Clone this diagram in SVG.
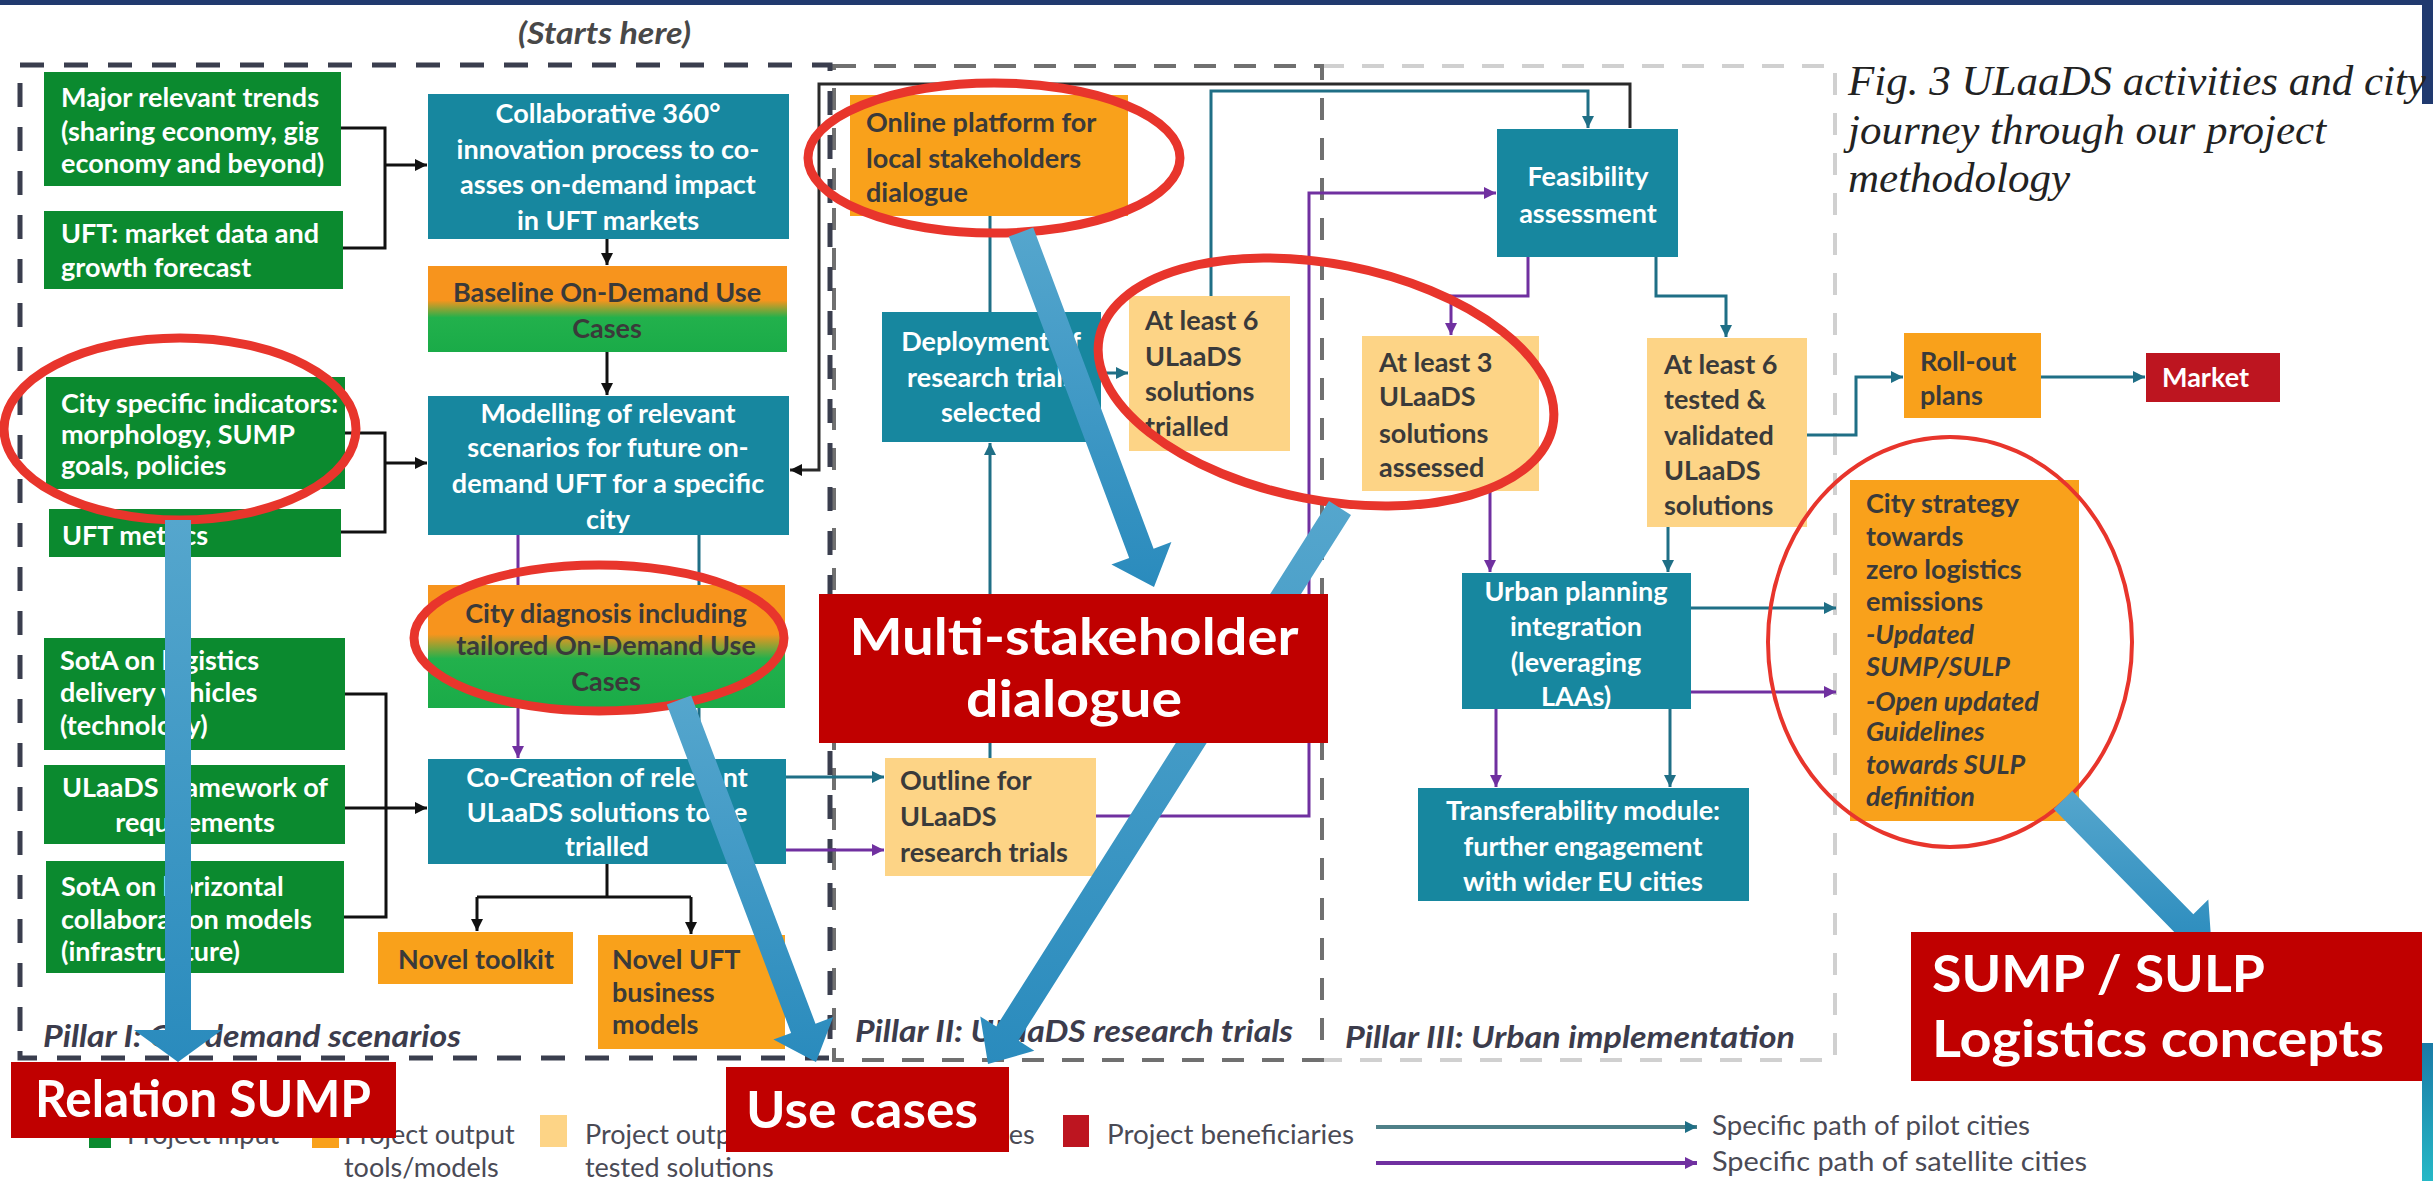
<svg xmlns="http://www.w3.org/2000/svg" width="2433" height="1181" viewBox="0 0 2433 1181">
<defs>
<style>
.bg{fill:#0b8a2f}.bt{fill:#17879f}.bo{fill:#f9a11b}.by{fill:#fdd486}.br{fill:#c00000}.bm{fill:#bd1520}
text{font-family:Lato,"Liberation Sans",sans-serif;font-weight:bold;font-size:27px}
.w{fill:#ffffff}.d{fill:#3a3a3a}.m{text-anchor:middle}.i{font-style:italic}
.ck{stroke:#111111;stroke-width:3;fill:none}
.cf{stroke:#2a2a2a;stroke-width:3;fill:none}
.ct{stroke:#1f6f86;stroke-width:3;fill:none}
.cp{stroke:#7030a0;stroke-width:3;fill:none}
.lbl{font-size:52px;fill:#ffffff}
.pil{font-size:30px;font-style:italic;fill:#3c3c4c}
.leg{font-weight:normal;font-size:27px;fill:#4a4a55}
.ell{fill:none;stroke:#e8352c;stroke-width:9}
.fa{fill:url(#gblue)}
.cap{font-family:"Liberation Serif",serif;font-weight:normal;font-style:italic;font-size:43px;fill:#222222}
</style>
<linearGradient id="gog" x1="0" y1="0" x2="0" y2="1">
<stop offset="0" stop-color="#f7941d"/><stop offset="0.4" stop-color="#f7941d"/><stop offset="0.6" stop-color="#22b14c"/><stop offset="1" stop-color="#1aab48"/>
</linearGradient>
<linearGradient id="gblue" x1="0" y1="0" x2="0" y2="1">
<stop offset="0" stop-color="#55a6cd"/><stop offset="1" stop-color="#2a8bbd"/>
</linearGradient>
<linearGradient id="gteal" x1="0" y1="0" x2="0" y2="1">
<stop offset="0" stop-color="#1a7aa6"/><stop offset="1" stop-color="#26b8c6"/>
</linearGradient>
<marker id="ak" viewBox="0 0 10 10" refX="10" refY="5" markerWidth="12" markerHeight="12" markerUnits="userSpaceOnUse" orient="auto"><path d="M0,0 L10,5 L0,10 z" fill="#111111"/></marker>
<marker id="at" viewBox="0 0 10 10" refX="10" refY="5" markerWidth="12" markerHeight="12" markerUnits="userSpaceOnUse" orient="auto"><path d="M0,0 L10,5 L0,10 z" fill="#1f6f86"/></marker>
<marker id="ap" viewBox="0 0 10 10" refX="10" refY="5" markerWidth="12" markerHeight="12" markerUnits="userSpaceOnUse" orient="auto"><path d="M0,0 L10,5 L0,10 z" fill="#7030a0"/></marker>
</defs>
<rect x="0" y="0" width="2433" height="1181" fill="#ffffff"/>
<rect x="0" y="0" width="2433" height="5" fill="#213a6f"/>
<rect x="2422" y="0" width="11" height="104" fill="#213a6f"/>
<rect x="2422" y="1043" width="11" height="138" fill="url(#gteal)"/>

<g id="pillars">
<rect x="1322" y="66" width="513" height="994" fill="none" stroke="#d0d0d0" stroke-width="4" stroke-dasharray="22 18"/>
<rect x="834" y="66" width="488" height="994" fill="none" stroke="#707070" stroke-width="4" stroke-dasharray="22 18"/>
<rect x="20" y="65" width="810" height="993" fill="none" stroke="#3a3e4e" stroke-width="5" stroke-dasharray="24 20"/>
<text class="pil" x="43" y="1047" textLength="418" lengthAdjust="spacingAndGlyphs">Pillar I: On-demand scenarios</text>
<text class="pil" x="855" y="1042" textLength="438" lengthAdjust="spacingAndGlyphs">Pillar II: ULaaDS research trials</text>
<text class="pil" x="1345" y="1048" textLength="450" lengthAdjust="spacingAndGlyphs">Pillar III: Urban implementation</text>
<text class="pil" x="518" y="44" textLength="173" lengthAdjust="spacingAndGlyphs" style="fill:#484848">(Starts here)</text>
</g>

<g id="caption">
<text class="cap" x="1848" y="95">Fig. 3 ULaaDS activities and city</text>
<text class="cap" x="1848" y="144">journey through our project</text>
<text class="cap" x="1848" y="192">methodology</text>
</g>

<g id="connectors">
<path class="ck" d="M341,128 H385 V248 H343"/>
<path class="ck" d="M385,165 H427" marker-end="url(#ak)"/>
<path class="ck" d="M345,433 H385 V532 H341"/>
<path class="ck" d="M385,463 H427" marker-end="url(#ak)"/>
<path class="ck" d="M345,694 H386 V917 H344"/>
<path class="ck" d="M345,808 H427" marker-end="url(#ak)"/>
<path class="ck" d="M607,239 V265" marker-end="url(#ak)"/>
<path class="ck" d="M607,352 V395" marker-end="url(#ak)"/>
<path class="ck" d="M607,864 V897 M477,897 H691"/>
<path class="ck" d="M477,897 V931" marker-end="url(#ak)"/>
<path class="ck" d="M691,897 V934" marker-end="url(#ak)"/>
<path class="cf" d="M1630,128 V84 H819 V470 H790" marker-end="url(#ak)"/>
<path class="ct" d="M1211,296 V91 H1588 V128" marker-end="url(#at)"/>
<path class="ct" d="M990,216 V312"/>
<path class="ct" d="M990,758 V443" marker-end="url(#at)"/>
<path class="ct" d="M1101,373 H1128" marker-end="url(#at)"/>
<path class="ct" d="M786,777 H884" marker-end="url(#at)"/>
<path class="ct" d="M699,535 V585 M699,708 V758" marker-end="url(#at)"/>
<path class="ct" d="M1656,257 V296 H1726 V337" marker-end="url(#at)"/>
<path class="ct" d="M1807,435 H1856 V377 H1903" marker-end="url(#at)"/>
<path class="ct" d="M2041,377 H2145" marker-end="url(#at)"/>
<path class="ct" d="M1668,527 V572" marker-end="url(#at)"/>
<path class="ct" d="M1691,608 H1836" marker-end="url(#at)"/>
<path class="ct" d="M1670,709 V787" marker-end="url(#at)"/>
<path class="cp" d="M518,535 V585 M518,708 V758" marker-end="url(#ap)"/>
<path class="cp" d="M786,850 H884" marker-end="url(#ap)"/>
<path class="cp" d="M1096,816 H1309 V193 H1496" marker-end="url(#ap)"/>
<path class="cp" d="M1528,257 V296 H1451 V335" marker-end="url(#ap)"/>
<path class="cp" d="M1490,491 V572" marker-end="url(#ap)"/>
<path class="cp" d="M1691,692 H1836" marker-end="url(#ap)"/>
<path class="cp" d="M1496,709 V787" marker-end="url(#ap)"/>
</g>

<g id="n-trends"><rect class="bg" x="44" y="72" width="297" height="114"/>
<text class="w"><tspan x="61" y="107">Major relevant trends</tspan><tspan x="61" y="141">(sharing economy, gig</tspan><tspan x="61" y="173">economy and beyond)</tspan></text></g>
<g id="n-uftmarket"><rect class="bg" x="44" y="211" width="299" height="78"/>
<text class="w"><tspan x="61" y="243">UFT: market data and</tspan><tspan x="61" y="277">growth forecast</tspan></text></g>
<g id="n-cityind"><rect class="bg" x="46" y="377" width="299" height="112"/>
<text class="w"><tspan x="61" y="413">City specific indicators:</tspan><tspan x="61" y="444">morphology, SUMP</tspan><tspan x="61" y="475">goals, policies</tspan></text></g>
<g id="n-uftmetrics"><rect class="bg" x="49" y="509" width="292" height="48"/>
<text class="w" x="62" y="545">UFT metrics</text></g>
<g id="n-sotalog"><rect class="bg" x="44" y="638" width="301" height="112"/>
<text class="w"><tspan x="60" y="670">SotA on logistics</tspan><tspan x="60" y="702">delivery vehicles</tspan><tspan x="60" y="735">(technology)</tspan></text></g>
<g id="n-framework"><rect class="bg" x="44" y="765" width="301" height="79"/>
<text class="w m"><tspan x="195" y="797">ULaaDS framework of</tspan><tspan x="195" y="832">requirements</tspan></text></g>
<g id="n-sotahor"><rect class="bg" x="46" y="861" width="298" height="112"/>
<text class="w"><tspan x="61" y="896">SotA on horizontal</tspan><tspan x="61" y="929">collaboration models</tspan><tspan x="61" y="961">(infrastructure)</tspan></text></g>

<g id="n-collab"><rect class="bt" x="428" y="94" width="361" height="145"/>
<text class="w m"><tspan x="608" y="123">Collaborative 360°</tspan><tspan x="608" y="159">innovation process to co-</tspan><tspan x="608" y="194">asses on-demand impact</tspan><tspan x="608" y="230">in UFT markets</tspan></text></g>
<g id="n-baseline"><rect x="428" y="266" width="359" height="86" fill="url(#gog)"/>
<text class="d m"><tspan x="607" y="302">Baseline On-Demand Use</tspan><tspan x="607" y="338">Cases</tspan></text></g>
<g id="n-modelling"><rect class="bt" x="428" y="396" width="361" height="139"/>
<text class="w m"><tspan x="608" y="423">Modelling of relevant</tspan><tspan x="608" y="457">scenarios for future on-</tspan><tspan x="608" y="493">demand UFT for a specific</tspan><tspan x="608" y="529">city</tspan></text></g>
<g id="n-diagnosis"><rect x="428" y="585" width="357" height="123" fill="url(#gog)"/>
<text class="d m"><tspan x="606" y="623">City diagnosis including</tspan><tspan x="606" y="655">tailored On-Demand Use</tspan><tspan x="606" y="691">Cases</tspan></text></g>
<g id="n-cocreation"><rect class="bt" x="428" y="759" width="358" height="105"/>
<text class="w m"><tspan x="607" y="787">Co-Creation of relevant</tspan><tspan x="607" y="822">ULaaDS solutions to be</tspan><tspan x="607" y="856">trialled</tspan></text></g>
<g id="n-toolkit"><rect class="bo" x="378" y="932" width="195" height="52"/>
<text class="d m" x="476" y="969">Novel toolkit</text></g>
<g id="n-business"><rect class="bo" x="598" y="935" width="187" height="114"/>
<text class="d"><tspan x="612" y="969">Novel UFT</tspan><tspan x="612" y="1002">business</tspan><tspan x="612" y="1034">models</tspan></text></g>

<g id="n-online"><rect class="bo" x="850" y="95" width="278" height="121"/>
<text class="d"><tspan x="866" y="132">Online platform for</tspan><tspan x="866" y="168">local stakeholders</tspan><tspan x="866" y="202">dialogue</tspan></text></g>
<g id="n-deployment"><rect class="bt" x="882" y="312" width="219" height="130"/>
<text class="w m"><tspan x="991" y="351">Deployment of</tspan><tspan x="991" y="387">research trials</tspan><tspan x="991" y="422">selected</tspan></text></g>
<g id="n-trialled"><rect class="by" x="1129" y="296" width="161" height="155"/>
<text class="d"><tspan x="1145" y="330">At least 6</tspan><tspan x="1145" y="366">ULaaDS</tspan><tspan x="1145" y="401">solutions</tspan><tspan x="1145" y="436">trialled</tspan></text></g>
<g id="n-outline"><rect class="by" x="885" y="758" width="211" height="118"/>
<text class="d"><tspan x="900" y="790">Outline for</tspan><tspan x="900" y="826">ULaaDS</tspan><tspan x="900" y="862">research trials</tspan></text></g>

<g id="n-feasibility"><rect class="bt" x="1497" y="129" width="181" height="128"/>
<text class="w m"><tspan x="1588" y="186">Feasibility</tspan><tspan x="1588" y="223">assessment</tspan></text></g>
<g id="n-assessed"><rect class="by" x="1362" y="336" width="177" height="155"/>
<text class="d"><tspan x="1379" y="372">At least 3</tspan><tspan x="1379" y="406">ULaaDS</tspan><tspan x="1379" y="443">solutions</tspan><tspan x="1379" y="477">assessed</tspan></text></g>
<g id="n-validated"><rect class="by" x="1647" y="338" width="160" height="189"/>
<text class="d"><tspan x="1664" y="374">At least 6</tspan><tspan x="1664" y="409">tested &amp;</tspan><tspan x="1664" y="445">validated</tspan><tspan x="1664" y="480">ULaaDS</tspan><tspan x="1664" y="515">solutions</tspan></text></g>
<g id="n-urban"><rect class="bt" x="1462" y="573" width="229" height="136"/>
<text class="w m"><tspan x="1576" y="601">Urban planning</tspan><tspan x="1576" y="636">integration</tspan><tspan x="1576" y="672">(leveraging</tspan><tspan x="1576" y="706">LAAs)</tspan></text></g>
<g id="n-transfer"><rect class="bt" x="1418" y="788" width="331" height="113"/>
<text class="w m"><tspan x="1583" y="820">Transferability module:</tspan><tspan x="1583" y="856">further engagement</tspan><tspan x="1583" y="891">with wider EU cities</tspan></text></g>
<g id="n-rollout"><rect class="bo" x="1904" y="333" width="137" height="85"/>
<text class="d"><tspan x="1920" y="371">Roll-out</tspan><tspan x="1920" y="405">plans</tspan></text></g>
<g id="n-market"><rect class="bm" x="2146" y="353" width="134" height="49"/>
<text class="w" x="2162" y="387">Market</text></g>
<g id="n-strategy"><rect class="bo" x="1850" y="480" width="229" height="341"/>
<text class="d"><tspan x="1866" y="513">City strategy</tspan><tspan x="1866" y="546">towards</tspan><tspan x="1866" y="579">zero logistics</tspan><tspan x="1866" y="611">emissions</tspan><tspan class="i" x="1866" y="644">-Updated</tspan><tspan class="i" x="1866" y="676">SUMP/SULP</tspan><tspan class="i" x="1866" y="711">-Open updated</tspan><tspan class="i" x="1866" y="741">Guidelines</tspan><tspan class="i" x="1866" y="774">towards SULP</tspan><tspan class="i" x="1866" y="806">definition</tspan></text></g>

<g id="legend">
<rect x="89" y="1118" width="22" height="30" fill="#0b8a2f"/>
<text class="leg" x="127" y="1144">Project input</text>
<rect x="312" y="1116" width="27" height="32" fill="#f9a11b"/>
<text class="leg"><tspan x="344" y="1144">Project output</tspan><tspan x="344" y="1177">tools/models</tspan></text>
<rect x="540" y="1115" width="27" height="32" fill="#fdd486"/>
<text class="leg"><tspan x="585" y="1144">Project output</tspan><tspan x="585" y="1177">tested solutions</tspan></text>
<rect x="800" y="1115" width="27" height="32" fill="#17879f"/>
<text class="leg" x="838" y="1144">Project activities</text>
<rect x="1063" y="1115" width="26" height="32" fill="#bd1520"/>
<text class="leg" x="1107" y="1144" textLength="247" lengthAdjust="spacingAndGlyphs">Project beneficiaries</text>
<path d="M1376,1127 H1697" stroke="#4f8088" stroke-width="4" fill="none" marker-end="url(#at)"/>
<text class="leg" x="1712" y="1135" textLength="318" lengthAdjust="spacingAndGlyphs">Specific path of pilot cities</text>
<path d="M1376,1163 H1697" stroke="#7030a0" stroke-width="4" fill="none" marker-end="url(#ap)"/>
<text class="leg" x="1712" y="1171" textLength="375" lengthAdjust="spacingAndGlyphs">Specific path of satellite cities</text>
</g>

<g id="highlights">
<ellipse class="ell" cx="180" cy="429" rx="176" ry="91"/>
<ellipse class="ell" cx="994" cy="158" rx="186" ry="75"/>
<ellipse class="ell" cx="1326" cy="382" rx="231" ry="118" transform="rotate(11 1326 382)"/>
<ellipse class="ell" cx="599" cy="638" rx="185" ry="73"/>
<ellipse class="ell" cx="1950" cy="642" rx="182" ry="205" style="stroke-width:4"/>
</g>

<g id="pointers">
<polygon class="fa" points="165,520 165,1030 134,1030 178,1062 222,1030 191,1030 191,520"/>
<polygon class="fa" points="666.8,704.6 791.1,1032.9 773.4,1039.6 816,1062 833.2,1017 815.5,1023.7 691.2,695.4"/>
<polygon class="fa" points="1008.8,236.6 1129.2,557.9 1111.4,564.5 1154,587 1171.4,542.1 1153.6,548.7 1033.2,227.4"/>
<polygon class="fa" points="1329,501 996.3,1026.6 980.3,1016.5 988,1064 1034.3,1050.7 1018.3,1040.6 1351,515"/>
<polygon class="fa" points="2053.7,809.1 2174.7,932.5 2159.7,947.2 2212,952 2208.3,899.6 2193.3,914.3 2072.3,790.9"/>
</g>

<g id="labels">
<g id="l-sump"><rect class="br" x="11" y="1062" width="385" height="76"/>
<text class="lbl m" x="203" y="1117" textLength="336" lengthAdjust="spacingAndGlyphs">Relation SUMP</text></g>
<g id="l-use"><rect class="br" x="726" y="1067" width="283" height="85"/>
<text class="lbl m" x="862" y="1128" textLength="232" lengthAdjust="spacingAndGlyphs">Use cases</text></g>
<g id="l-multi"><rect class="br" x="819" y="594" width="509" height="149"/>
<text class="lbl m" x="1074" y="655" textLength="449" lengthAdjust="spacingAndGlyphs">Multi-stakeholder</text>
<text class="lbl m" x="1074" y="717" textLength="216" lengthAdjust="spacingAndGlyphs">dialogue</text></g>
<g id="l-sulp"><rect class="br" x="1911" y="932" width="511" height="149"/>
<text class="lbl" x="1932" y="992" textLength="333" lengthAdjust="spacingAndGlyphs">SUMP / SULP</text>
<text class="lbl" x="1932" y="1057" textLength="452" lengthAdjust="spacingAndGlyphs">Logistics concepts</text></g>
</g>
</svg>
